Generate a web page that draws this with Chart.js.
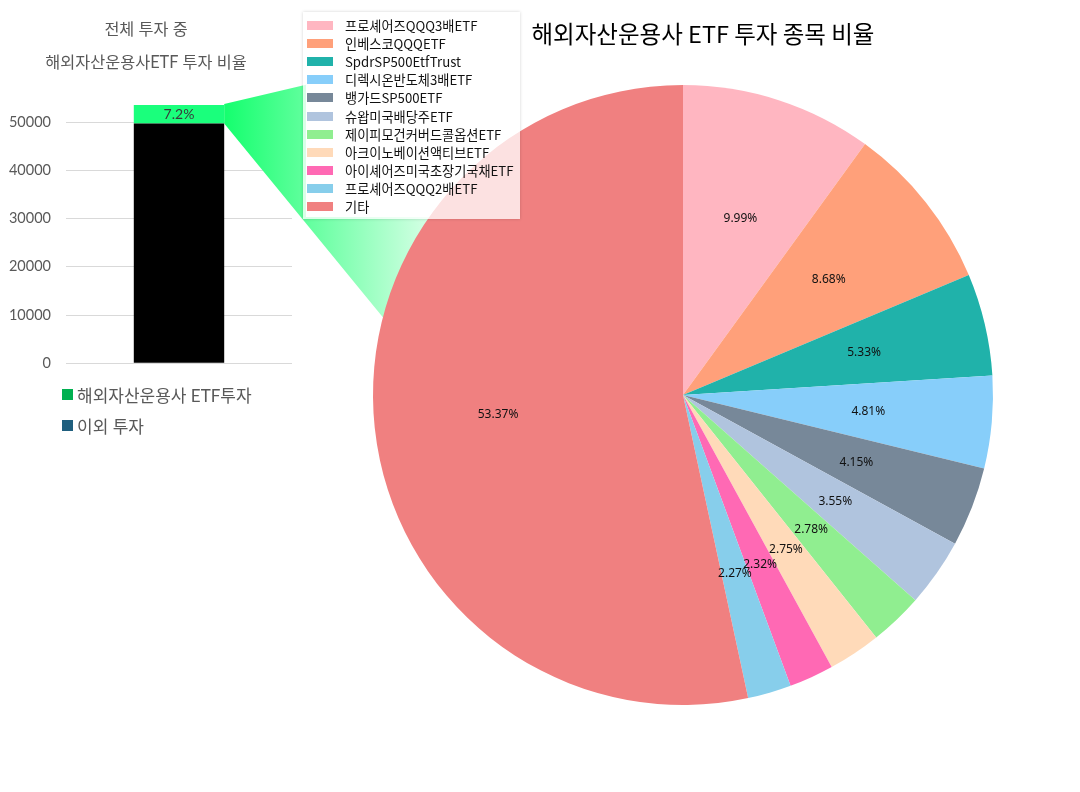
<!DOCTYPE html>
<html>
<head>
<meta charset="utf-8">
<script src="https://cdn.jsdelivr.net/npm/chart.js@4"></script>
<style>
  html, body { margin: 0; padding: 0; background: #fff; }
  #stage { position: relative; width: 1080px; height: 792px; overflow: hidden; background: #fff; }
  .abs { position: absolute; }
  #barBox { left: 0; top: 0; width: 306px; height: 387px; z-index: 1; }
  #overlay { left: 0; top: 0; z-index: 2; }
  #pieBox { left: 326px; top: 0; width: 754px; height: 792px; z-index: 3; }
  #pieTitle { left: 326px; top: 16px; width: 754px; line-height: 34px; text-align: center; z-index: 5;
    font-family: "Noto Sans CJK KR", "Noto Sans", sans-serif; font-size: 23.5px; color: #000; }
  #pieLegend { left: 303px; top: 12px; width: 217px; height: 207px; z-index: 4;
    background: rgba(255,255,255,0.76); box-shadow: 0 0 3px rgba(0,0,0,0.18);
    font-family: "Noto Sans CJK KR", "Noto Sans", sans-serif; font-size: 13.2px; color: #111; box-sizing: border-box; padding-top: 4px; }
  #pieLegend .row { height: 18.2px; display: flex; align-items: center; white-space: nowrap; }
  #pieLegend .sw { width: 26px; height: 9px; margin-left: 4px; margin-right: 12px; flex: none; }
  #barLegend { left: 62px; top: 379px; z-index: 4; font-family: Lato, "Noto Sans CJK KR", sans-serif; font-size: 17px; color: #595959; }
  #barLegend .row { height: 31px; display: flex; align-items: center; white-space: nowrap; }
  #barLegend .sw { width: 11px; height: 11px; margin-right: 4px; flex: none; }
</style>
</head>
<body>
<div id="stage">
  <div id="barBox" class="abs"><canvas id="barChart"></canvas></div>
  <canvas id="overlay" class="abs" width="1080" height="792"></canvas>
  <div id="pieBox" class="abs"><canvas id="pieChart"></canvas></div>
  <div id="pieTitle" class="abs"></div>
  <div id="pieLegend" class="abs"></div>
  <div id="barLegend" class="abs"></div>
</div>
<script>
// ---------- data ----------
const barTitleLines = ['전체 투자 중', '해외자산운용사ETF 투자 비율'];
const barCategories = ['전체 투자'];
const barSeriesNames = ['이외 투자', '해외자산운용사 ETF투자'];
const otherInvest = [49700];
const etfInvest = [3856];
const etfShareLabel = ['7.2%'];
const yTickValues = [0, 10000, 20000, 30000, 40000, 50000];

const pieTitleText = '해외자산운용사 ETF 투자 종목 비율';
const etfNames = ['프로셰어즈QQQ3배ETF', '인베스코QQQETF', 'SpdrSP500EtfTrust', '디렉시온반도체3배ETF',
  '뱅가드SP500ETF', '슈왑미국배당주ETF', '제이피모건커버드콜옵션ETF', '아크이노베이션액티브ETF',
  '아이셰어즈미국초장기국채ETF', '프로셰어즈QQQ2배ETF', '기타'];
const etfShares = [9.99, 8.68, 5.33, 4.81, 4.15, 3.55, 2.78, 2.75, 2.32, 2.27, 53.37];

// ---------- styles ----------
const barFill = ['#000000', '#1aff7c'];
const barLegendLabels = ['해외자산운용사 ETF투자', '이외 투자'];
const barLegendColors = ['#00b050', '#1f5f7e'];
const pieColors = ['#FFB6C1', '#FFA07A', '#20B2AA', '#87CEFA', '#778899', '#B0C4DE',
  '#90EE90', '#FFDAB9', '#FF69B4', '#87CEEB', '#F08080'];
const grayText = '#595959';

// ---------- bar chart ----------
const barLabelPlugin = {
  id: 'barLabel',
  afterDatasetsDraw(chart) {
    const meta = chart.getDatasetMeta(1);
    const ctx = chart.ctx;
    ctx.save();
    ctx.font = '14px Lato, "Noto Sans", sans-serif';
    ctx.fillStyle = '#3a3a3a';
    ctx.textAlign = 'center';
    ctx.textBaseline = 'middle';
    meta.data.forEach((bar, i) => {
      const p = bar.getProps(['x', 'y', 'base'], true);
      ctx.fillText(etfShareLabel[i], p.x, (p.y + p.base) / 2 + 0.5);
    });
    ctx.restore();
  }
};

const barChart = new Chart(document.getElementById('barChart'), {
  type: 'bar',
  data: {
    labels: barCategories,
    datasets: [
      { label: barSeriesNames[0], data: otherInvest, backgroundColor: barFill[0], borderWidth: 0 },
      { label: barSeriesNames[1], data: etfInvest, backgroundColor: barFill[1], borderWidth: 0 }
    ]
  },
  options: {
    responsive: true,
    maintainAspectRatio: false,
    animation: false,
    barPercentage: 0.4,
    categoryPercentage: 1,
    layout: { padding: { left: 0, right: 14, bottom: 7, top: 0 } },
    plugins: {
      legend: { display: false },
      tooltip: { enabled: false },
      title: {
        display: true,
        text: barTitleLines,
        color: grayText,
        font: { family: 'Lato, "Noto Sans CJK KR", sans-serif', size: 16.3, weight: 'normal', lineHeight: 2.03 },
        padding: { top: 13.5, bottom: 18.3 }
      }
    },
    scales: {
      x: { stacked: true, display: false },
      y: {
        stacked: true,
        min: 0,
        max: 55000,
        border: { display: false },
        grid: { color: '#d9d9d9', drawTicks: false, lineWidth: 1 },
        ticks: {
          stepSize: 10000,
          padding: 15,
          color: grayText,
          font: { family: 'Lato, "Noto Sans", sans-serif', size: 14.5 },
          callback: v => String(v)
        },
        afterBuildTicks(scale) {
          scale.ticks = yTickValues.map(v => ({ value: v }));
        },
        afterFit(scale) { scale.width = 66; }
      }
    }
  },
  plugins: [barLabelPlugin]
});

// ---------- pie chart ----------
const pieLabelPlugin = {
  id: 'pieLabel',
  afterDatasetsDraw(chart) {
    const meta = chart.getDatasetMeta(0);
    const ctx = chart.ctx;
    ctx.save();
    ctx.font = '12px "Noto Sans", "DejaVu Sans", sans-serif';
    ctx.fillStyle = '#111';
    ctx.textAlign = 'center';
    ctx.textBaseline = 'middle';
    meta.data.forEach((arc, i) => {
      const p = arc.getProps(['x', 'y', 'startAngle', 'endAngle', 'outerRadius'], true);
      const mid = (p.startAngle + p.endAngle) / 2;
      const r = p.outerRadius * 0.6;
      ctx.fillText(etfShares[i].toFixed(2) + '%', p.x + Math.cos(mid) * r, p.y + Math.sin(mid) * r);
    });
    ctx.restore();
  }
};

const pieChart = new Chart(document.getElementById('pieChart'), {
  type: 'pie',
  data: {
    labels: etfNames,
    datasets: [{ data: etfShares, backgroundColor: pieColors, borderWidth: 0 }]
  },
  options: {
    responsive: true,
    maintainAspectRatio: false,
    animation: false,
    layout: { padding: { left: 0, right: 40, top: 85, bottom: 87 } },
    plugins: { legend: { display: false }, tooltip: { enabled: false }, title: { display: false } }
  },
  plugins: [pieLabelPlugin]
});

// ---------- HTML title & legends ----------
document.getElementById('pieTitle').textContent = pieTitleText;
const pl = document.getElementById('pieLegend');
etfNames.forEach((n, i) => {
  const row = document.createElement('div'); row.className = 'row';
  const sw = document.createElement('span'); sw.className = 'sw'; sw.style.background = pieColors[i];
  const tx = document.createElement('span'); tx.textContent = n;
  row.appendChild(sw); row.appendChild(tx); pl.appendChild(row);
});
const bl = document.getElementById('barLegend');
barLegendLabels.forEach((n, i) => {
  const row = document.createElement('div'); row.className = 'row';
  const sw = document.createElement('span'); sw.className = 'sw'; sw.style.background = barLegendColors[i];
  const tx = document.createElement('span'); tx.textContent = n;
  row.appendChild(sw); row.appendChild(tx); bl.appendChild(row);
});

// ---------- connector overlay (decoration) ----------
function drawOverlay() {
  const bar = barChart.getDatasetMeta(1).data[0].getProps(['x', 'y', 'base', 'width'], true);
  const arc = pieChart.getDatasetMeta(0).data[0].getProps(['x', 'y', 'outerRadius'], true);
  const pieLeft = 326;
  const cx = arc.x + pieLeft, cy = arc.y, r = arc.outerRadius;
  const ax = bar.x + bar.width / 2;
  const A = [ax, bar.y - 1];
  const E = [ax, bar.base];
  const legL = 303, legB = 219;
  const B = [legL + 3, A[1] - 0.2346 * (legL + 3 - ax)];
  const C = [legL + 3, legB - 2];
  const F = [cx - 0.78 * r, legB - 2];
  const D = [cx - 0.961 * r, cy - 0.242 * r];
  const ctx = document.getElementById('overlay').getContext('2d');
  const g = ctx.createLinearGradient(ax, 0, ax + 250, 0);
  g.addColorStop(0, 'rgb(20,255,110)');
  g.addColorStop(1, 'rgb(255,255,255)');
  ctx.fillStyle = g;
  ctx.beginPath();
  ctx.moveTo(A[0], A[1]);
  ctx.lineTo(B[0], B[1]);
  ctx.lineTo(C[0], C[1]);
  ctx.lineTo(F[0], F[1]);
  ctx.lineTo(D[0], D[1]);
  ctx.lineTo(E[0], E[1]);
  ctx.closePath();
  ctx.fill();
}
drawOverlay();
</script>
</body>
</html>
